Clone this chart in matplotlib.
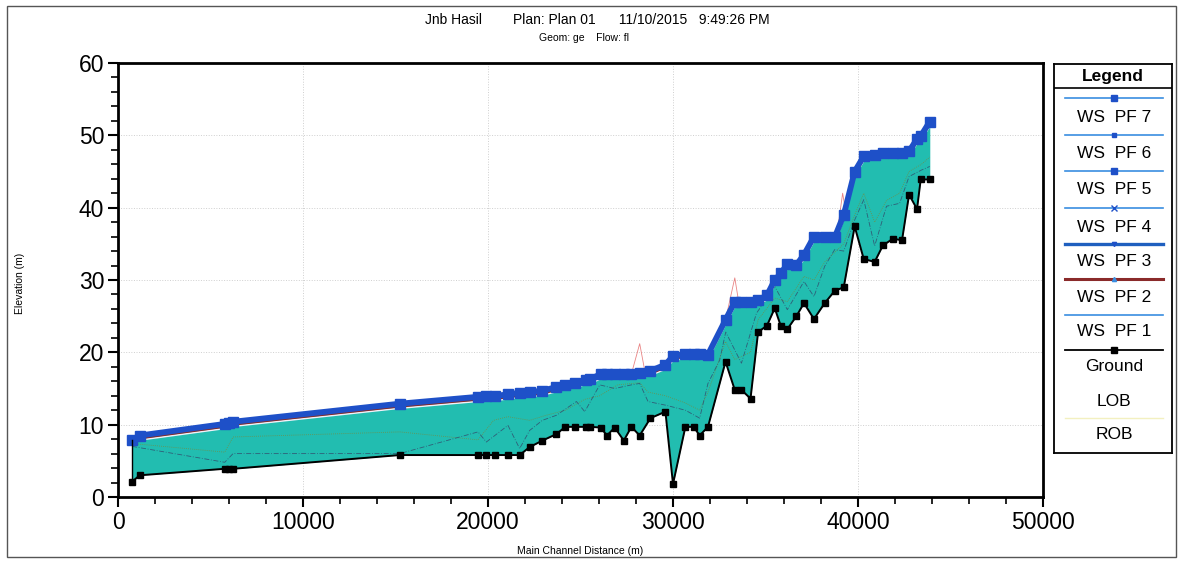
"""Water surface profile (HEC-RAS style) redrawn with matplotlib."""

import numpy as np
import matplotlib
matplotlib.use("Agg")
import matplotlib.pyplot as plt
import matplotlib.transforms as mtransforms
from matplotlib.patches import Rectangle

plt.rcParams['font.family'] = ['Liberation Sans', 'DejaVu Sans']

# stations along the main channel (m)
station = [760, 1170, 5770, 6000, 6220, 15230, 19460, 19910, 20360, 21080,
           21710, 22250, 22940, 23700, 24180, 24720, 25320, 25540, 26090, 26430,
           26850, 27340, 27750, 28200, 28780, 29590, 30000, 30670, 31120, 31440,
           31890, 32840, 33340, 33700, 34190, 34600, 35080, 35500, 35820, 36180,
           36670, 37080, 37620, 38200, 38740, 39230, 39820, 40310, 40900, 41350,
           41890, 42380, 42760, 43190, 43390, 43880]

ground = [2.1, 3.0, 3.9, 3.9, 3.9, 5.8, 5.8, 5.8, 5.8, 5.8,
          5.8, 6.9, 7.8, 8.7, 9.7, 9.7, 9.7, 9.7, 9.6, 8.5,
          9.6, 7.8, 9.7, 8.5, 10.9, 11.8, 1.8, 9.7, 9.7, 8.5,
          9.7, 18.7, 14.8, 14.8, 13.6, 22.8, 23.7, 26.1, 23.7, 23.2,
          25.0, 26.8, 24.6, 26.8, 28.5, 29.0, 37.4, 32.9, 32.5, 34.8,
          35.7, 35.5, 41.8, 39.8, 43.9, 43.9]

ws = [7.9, 8.5, 10.1, 10.2, 10.4, 12.9, 13.85, 13.9, 13.95, 14.2,
      14.4, 14.5, 14.7, 15.2, 15.5, 15.8, 16.2, 16.3, 17.0, 17.0,
      17.0, 17.0, 17.0, 17.1, 17.45, 18.3, 19.5, 19.8, 19.8, 19.8,
      19.7, 24.5, 27.0, 27.0, 27.0, 27.2, 27.9, 30.0, 30.9, 32.2,
      32.1, 33.5, 36.0, 35.9, 35.9, 39.0, 45.0, 47.1, 47.3, 47.5,
      47.6, 47.6, 47.8, 49.5, 49.9, 51.9]

# bank stations drawn inside the flow area
rob_x = [760, 5770, 6220, 15230, 19460, 19910, 21080, 21710, 22250, 22940,
         23700, 24780, 25230, 26040, 26850, 27750, 28200, 28650, 29590, 30670,
         31440, 31890, 32520, 32850, 33700, 34510, 35500, 36180, 37080, 37620,
         38200, 38740, 39230, 39820, 40310, 40900, 41540, 42250, 42760, 43430,
         43880]
rob_y = [7.0, 4.8, 6.0, 6.0, 9.0, 7.6, 9.9, 6.7, 9.2, 10.6,
         11.3, 13.2, 11.8, 15.5, 15.0, 15.5, 15.7, 13.2, 12.7, 12.0,
         10.9, 15.7, 18.9, 22.8, 18.5, 25.4, 29.1, 25.9, 29.8, 27.7,
         31.9, 34.2, 34.0, 38.3, 41.1, 34.7, 40.2, 40.6, 44.3, 45.2,
         45.7]

lob_x = [760, 5770, 6220, 15230, 19460, 20300, 21080, 22250, 23140, 24180,
         25230, 26040, 27000, 28200, 28650, 29590, 30670, 31440, 31890, 32840,
         33340, 34190, 34600, 35500, 36180, 37080, 37620, 38200, 39230, 39820,
         40310, 40900, 41540, 42250, 42760, 43430, 43880]
lob_y = [7.4, 6.2, 8.3, 9.0, 7.9, 10.6, 11.1, 10.6, 11.3, 12.0,
         13.5, 14.0, 15.5, 15.8, 14.5, 14.0, 13.0, 12.0, 14.5, 21.5,
         19.0, 20.0, 24.5, 27.5, 27.0, 30.5, 30.0, 32.5, 35.0, 39.0,
         42.0, 38.0, 41.0, 42.0, 45.0, 46.0, 47.0]

# faint red spikes of WS PF 2 above the band
spike_x = [27750, 28200, 28500, np.nan, 32840, 33340, 33550, np.nan, 38900, 39170, 39300]
spike_y = [17.0, 21.2, 17.1, np.nan, 24.5, 30.3, 27.0, np.nan, 37.0, 42.0, 40.0]

legend_names = ["WS  PF 7", "WS  PF 6", "WS  PF 5", "WS  PF 4", "WS  PF 3",
                "WS  PF 2", "WS  PF 1", "Ground", "LOB", "ROB"]

W, H = 1179, 561
fig = plt.figure(figsize=(W / 100, H / 100), dpi=100)
fig.patch.set_facecolor('white')

x0, x1, y0, y1 = 118, 1043, 497, 63
ax = fig.add_axes([x0 / W, 1 - y0 / H, (x1 - x0) / W, (y0 - y1) / H])

BLUE = '#1e50c8'
TEAL = '#22bdb0'

ax.fill_between(station, ground, ws, color=TEAL, lw=0, zorder=2)
ax.plot(lob_x, lob_y, color='#6f8f48', lw=0.6, ls=(0, (1, 1.5)), zorder=3)
ax.plot(rob_x, rob_y, color='#2f5f78', lw=0.6, ls=(0, (6, 2, 1, 2)), zorder=3)
ax.plot(spike_x, spike_y, color='#e05050', lw=0.6, alpha=0.7, zorder=3)

down_white = mtransforms.offset_copy(ax.transData, fig=fig, x=0, y=-4.5, units='dots')
down_red = mtransforms.offset_copy(ax.transData, fig=fig, x=0, y=-3, units='dots')
ax.plot(station, ws, color='#f4f0f8', lw=1.2, transform=down_white, zorder=4)
ax.plot(station, ws, color='#8a2a2a', lw=1.3, transform=down_red, zorder=4)
ax.plot(station, ws, color=BLUE, lw=4.2, marker='s', ms=6.5, mec=BLUE, zorder=5)

ax.plot([station[0], station[0]], [ground[0], ws[0]], color='black', lw=1, zorder=5)
ax.plot(station, ground, color='black', lw=1.4, marker='s', ms=5, zorder=6)

ax.set_xlim(0, 50000)
ax.set_ylim(0, 60)
ax.set_xticks(np.arange(0, 50001, 10000))
ax.set_xticks(np.arange(0, 50001, 2000), minor=True)
ax.set_yticks(np.arange(0, 61, 10))
ax.set_yticks(np.arange(0, 61, 2), minor=True)
ax.tick_params(which='major', direction='out', length=7, width=1.5, labelsize=16.5, pad=3)
ax.tick_params(which='minor', direction='out', length=5, width=1.2)
ax.grid(True, which='major', color='#cfcfcf', lw=0.7, ls=':')
ax.set_axisbelow(True)
for sp in ax.spines.values():
    sp.set_linewidth(2)

fig.text(20 / W, 1 - 283 / H, "Elevation (m)", rotation=90, fontsize=7.5,
         ha='center', va='center')
fig.text(580 / W, 1 - 551 / H, "Main Channel Distance (m)", fontsize=7.5,
         ha='center', va='center')
fig.text(597 / W, 1 - 20 / H,
         "Jnb Hasil        Plan: Plan 01      11/10/2015   9:49:26 PM",
         fontsize=10, ha='center', va='center')
fig.text(584 / W, 1 - 38 / H, "Geom: ge    Flow: fl", fontsize=7.5,
         ha='center', va='center')

# outer frame of the printout
fig.add_artist(Rectangle((7 / W, 4 / H), (1176 - 7) / W, (557 - 6) / H,
                         transform=fig.transFigure, fill=False, ec='#555555', lw=1))

# legend box, drawn in image pixel units
lx0, lx1, ly0, ly1 = 1054, 1172, 64, 453
lg = fig.add_axes([lx0 / W, 1 - ly1 / H, (lx1 - lx0) / W, (ly1 - ly0) / H])
lg.set_xlim(lx0, lx1)
lg.set_ylim(ly1, ly0)
lg.set_xticks([])
lg.set_yticks([])
for sp in lg.spines.values():
    sp.set_linewidth(1.3)
lg.axhline(88, color='black', lw=1.2)
lg.text((lx0 + lx1) / 2, 76, "Legend", fontsize=12.5, fontweight='bold',
        ha='center', va='center')

sample_styles = [
    dict(color='#3a8ee0', lw=1.2, marker='s', ms=5, mfc=BLUE, mec=BLUE),
    dict(color='#3a8ee0', lw=1.2, marker='s', ms=3, mfc=BLUE, mec=BLUE),
    dict(color='#3a8ee0', lw=1.2, marker='s', ms=5, mfc=BLUE, mec=BLUE),
    dict(color='#3a8ee0', lw=1.2, marker='x', ms=4, mec=BLUE),
    dict(color='#1f5fbf', lw=2.4, marker='v', ms=3, mfc=BLUE, mec=BLUE),
    dict(color='#8a2a2a', lw=2.2, marker='^', ms=3, mfc='#3a8ee0', mec='#3a8ee0'),
    dict(color='#3a8ee0', lw=1.2),
    dict(color='black', lw=1.3, marker='s', ms=4, mfc='black'),
    None,
    dict(color='#f3f0c0', lw=1.0),
]
line_rows = [98, 135, 171, 208, 244, 279, 315, 350, None, 418]
text_rows = [117, 153, 190, 227, 262, 298, 332, 367, 402, 435]
for name, style, ly, ty in zip(legend_names, sample_styles, line_rows, text_rows):
    if style is not None:
        lg.plot([1065, 1163], [ly, ly], **dict(style, markevery=[]))
        if 'marker' in style:
            lg.plot([1114], [ly], ls='none', **{k: v for k, v in style.items() if k not in ('lw',)})
    lg.text(1114, ty, name, fontsize=12.5, ha='center', va='center')

fig.savefig("out.png", dpi=100)
